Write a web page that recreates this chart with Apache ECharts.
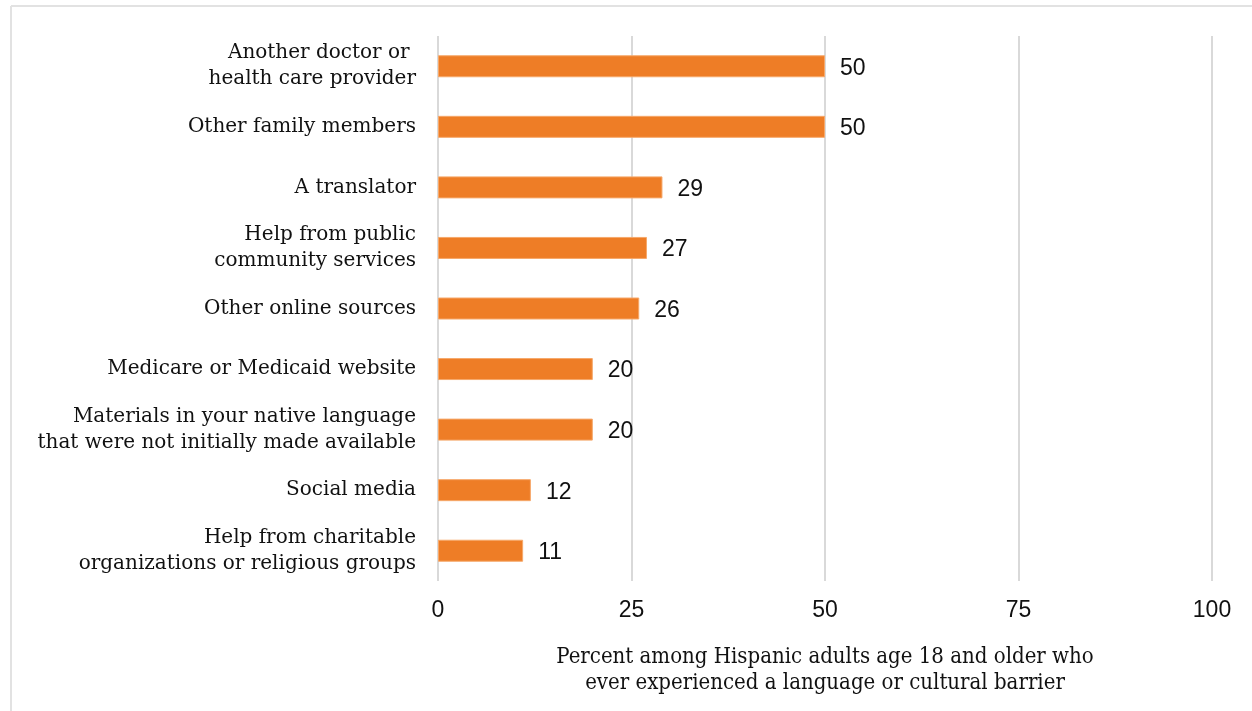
<!DOCTYPE html>
<html>
<head>
<meta charset="utf-8">
<script src="https://cdn.jsdelivr.net/npm/echarts@6/dist/echarts.min.js"></script>
<style>
  html, body { margin: 0; padding: 0; background: #ffffff; }
  #chart { width: 1252px; height: 711px; }
</style>
</head>
<body>
<div id="chart"></div>
<script>
// Where Hispanic adults turned for help after a language or cultural barrier
const categories = [
  'Another doctor or \nhealth care provider',
  'Other family members',
  'A translator',
  'Help from public\ncommunity services',
  'Other online sources',
  'Medicare or Medicaid website',
  'Materials in your native language\nthat were not initially made available',
  'Social media',
  'Help from charitable\norganizations or religious groups'
];
const values = [50, 50, 29, 27, 26, 20, 20, 12, 11];
const xTicks = [0, 25, 50, 75, 100];
const axisTitle = 'Percent among Hispanic adults age 18 and older who\never experienced a language or cultural barrier';

const chart = echarts.init(document.getElementById('chart'), null, { renderer: 'canvas' });

const slab = '"DejaVu Serif", serif';
const slabNarrow = '"DejaVu Serif Condensed", "DejaVu Serif", serif';
const numFont = '"Liberation Sans", sans-serif';

chart.setOption({
  backgroundColor: '#ffffff',
  animation: false,
  graphic: [
    { type: 'line', shape: { x1: 11, y1: 6, x2: 1252, y2: 6 }, style: { stroke: '#e2e2e2', lineWidth: 2 } },
    { type: 'line', shape: { x1: 11, y1: 6, x2: 11, y2: 711 }, style: { stroke: '#e2e2e2', lineWidth: 2 } }
  ],
  grid: { left: 438, right: 40, top: 36, bottom: 130 },
  xAxis: {
    type: 'value',
    min: xTicks[0],
    max: xTicks[xTicks.length - 1],
    interval: 25,
    axisLine: { show: false },
    axisTick: { show: false },
    splitLine: { show: true, lineStyle: { color: '#d9d9d9', width: 2 } },
    axisLabel: {
      color: '#111111',
      fontFamily: numFont,
      fontSize: 23,
      margin: 18
    },
    name: axisTitle,
    nameLocation: 'middle',
    nameGap: 63,
    nameTextStyle: {
      color: '#111111',
      fontFamily: slabNarrow,
      fontSize: 22,
      lineHeight: 26
    }
  },
  yAxis: {
    type: 'category',
    data: categories,
    inverse: true,
    axisLine: { show: false },
    axisTick: { show: false },
    splitLine: { show: false },
    axisLabel: {
      color: '#111111',
      fontFamily: slab,
      fontSize: 20,
      lineHeight: 26,
      margin: 22,
      align: 'right'
    }
  },
  series: [{
    type: 'bar',
    data: values,
    barWidth: 22,
    itemStyle: { color: '#EE7D26', borderColor: '#F6A86A', borderWidth: 1 },
    label: {
      show: true,
      position: 'right',
      distance: 15,
      offset: [0, 2],
      color: '#111111',
      fontFamily: numFont,
      fontSize: 23
    }
  }]
});
</script>
</body>
</html>
